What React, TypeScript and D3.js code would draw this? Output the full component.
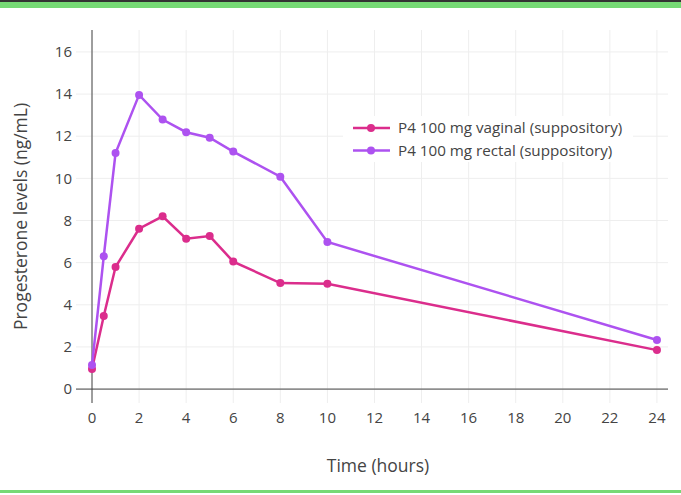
import React from "react";
import * as d3 from "d3";

const times = [0, 0.5, 1, 2, 3, 4, 5, 6, 8, 10, 24];
const vaginal = [0.95, 3.47, 5.79, 7.61, 8.2, 7.14, 7.26, 6.05, 5.03, 5.0, 1.85];
const rectal = [1.14, 6.3, 11.2, 13.96, 12.79, 12.19, 11.93, 11.27, 10.08, 6.98, 2.33];
const seriesNames = ["P4 100 mg vaginal (suppository)", "P4 100 mg rectal (suppository)"];
const seriesColors = ["#db2d8c", "#ad52f0"];
const xTicks = [0, 2, 4, 6, 8, 10, 12, 14, 16, 18, 20, 22, 24];
const yTicks = [0, 2, 4, 6, 8, 10, 12, 14, 16];

const W = 681;
const H = 495;
const left = 76;
const right = 668;
const top = 30;
const bottom = 403;

export default function App() {
  const x = d3.scaleLinear().domain([-0.68, 24.47]).range([left, right]);
  const y = d3.scaleLinear().domain([-0.66, 17.04]).range([bottom, top]);
  const line = d3
    .line<[number, number]>()
    .x((d) => x(d[0]))
    .y((d) => y(d[1]));
  const series = [vaginal, rectal].map((vals) => vals.map((v, i) => [times[i], v] as [number, number]));
  const font = "'Open Sans', 'Noto Sans', sans-serif";

  return (
    <svg
      width={W}
      height={H}
      style={{ position: "absolute", left: 0, top: 0, background: "#fff" }}
      fontFamily={font}
    >
      <rect x={0} y={0} width={W} height={2} fill="#333" />
      <rect x={0} y={2} width={W} height={6} fill="#76d975" />
      <rect x={0} y={490} width={W} height={3} fill="#76d975" />

      {/* grid */}
      {xTicks.map((t) => (
        <line key={"gx" + t} x1={x(t)} x2={x(t)} y1={top} y2={bottom} stroke="#eeeeee" strokeWidth={1} />
      ))}
      {yTicks.map((t) => (
        <line key={"gy" + t} x1={left} x2={right} y1={y(t)} y2={y(t)} stroke="#eeeeee" strokeWidth={1} />
      ))}
      {/* zero lines */}
      <line x1={left} x2={right} y1={y(0)} y2={y(0)} stroke="#444" strokeWidth={1} />
      <line x1={x(0)} x2={x(0)} y1={top} y2={bottom} stroke="#444" strokeWidth={1} />

      {/* tick labels */}
      {yTicks.map((t) => (
        <text key={"ty" + t} x={72} y={y(t)} dy="0.35em" textAnchor="end" fontSize={15} fill="#444">
          {t}
        </text>
      ))}
      {xTicks.map((t) => (
        <text key={"tx" + t} x={x(t)} y={423} textAnchor="middle" fontSize={15} fill="#444">
          {t}
        </text>
      ))}

      {/* axis titles */}
      <text x={378} y={472} textAnchor="middle" fontSize={17.5} fill="#444">
        Time (hours)
      </text>
      <text
        transform={`translate(27,${(top + bottom) / 2}) rotate(-90)`}
        textAnchor="middle"
        fontSize={17.5}
        fill="#444"
      >
        Progesterone levels (ng/mL)
      </text>

      {/* series */}
      {series.map((pts, si) => (
        <g key={"s" + si}>
          <path d={line(pts) || ""} fill="none" stroke={seriesColors[si]} strokeWidth={2.5} />
          {pts.map((p, i) => (
            <circle key={i} cx={x(p[0])} cy={y(p[1])} r={4} fill={seriesColors[si]} />
          ))}
        </g>
      ))}

      {/* legend */}
      <rect x={343} y={116} width={290} height={46} fill="#fff" />
      {seriesNames.map((name, i) => {
        const ly = 128 + i * 22.5;
        return (
          <g key={"lg" + i}>
            <line x1={353} x2={390} y1={ly} y2={ly} stroke={seriesColors[i]} strokeWidth={2.5} />
            <circle cx={371} cy={ly} r={4} fill={seriesColors[i]} />
            <text x={398} y={ly} dy="0.35em" fontSize={15.2} fill="#444">
              {name}
            </text>
          </g>
        );
      })}
    </svg>
  );
}
